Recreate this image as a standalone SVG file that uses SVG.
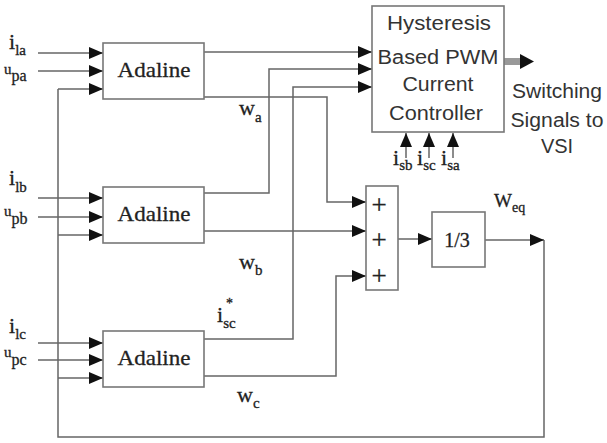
<svg xmlns="http://www.w3.org/2000/svg" width="607" height="443" viewBox="0 0 607 443">
<defs>
<marker id="ah" markerUnits="userSpaceOnUse" markerWidth="14" markerHeight="12" viewBox="0 0 14 12" refX="14" refY="6" orient="auto">
<path d="M0,0 L14,6 L0,12 Z" fill="#111"/>
</marker>
</defs>
<style>
.box{fill:#fff;stroke:#777;stroke-width:1.6}
.ln{fill:none;stroke:#666;stroke-width:1.5}
.ar{marker-end:url(#ah)}
.ser{font-family:"Liberation Serif","Times New Roman",serif;fill:#222;stroke:#222;stroke-width:0.3}
.sans{font-family:"Liberation Sans",Arial,sans-serif;fill:#333}
</style>
<rect width="607" height="443" fill="#fff"/>

<g id="connectors">
<line class="ln ar" x1="38" y1="53" x2="103" y2="53"/>
<line class="ln ar" x1="38" y1="71" x2="103" y2="71"/>
<line class="ln ar" x1="58" y1="89" x2="103" y2="89"/>
<line class="ln ar" x1="38" y1="198" x2="103" y2="198"/>
<line class="ln ar" x1="38" y1="217" x2="103" y2="217"/>
<line class="ln ar" x1="58" y1="235" x2="103" y2="235"/>
<line class="ln ar" x1="38" y1="343" x2="103" y2="343"/>
<line class="ln ar" x1="38" y1="360" x2="103" y2="360"/>
<line class="ln ar" x1="58" y1="378" x2="103" y2="378"/>
<polyline class="ln" points="58,89 58,437 544,437 544,240"/>
<line class="ln ar" x1="485" y1="240" x2="544" y2="240"/>
<line class="ln ar" x1="204" y1="52" x2="372" y2="52"/>
<polyline class="ln ar" points="204,97 327,97 327,202 366,202"/>
<polyline class="ln ar" points="204,193 269,193 269,69 372,69"/>
<line class="ln ar" x1="204" y1="231" x2="366" y2="231"/>
<polyline class="ln ar" points="204,339 293,339 293,87 372,87"/>
<polyline class="ln ar" points="204,376 336,376 336,276 366,276"/>
<line class="ln ar" x1="398" y1="239" x2="432" y2="239"/>
<line class="ln ar" x1="406" y1="158" x2="406" y2="133"/>
<line class="ln ar" x1="429" y1="158" x2="429" y2="133"/>
<line class="ln ar" x1="453" y1="158" x2="453" y2="133"/>
<rect x="504" y="58" width="17" height="7" fill="#999"/>
<path d="M520,54 L534,61.5 L520,69 Z" fill="#111"/>
</g>

<g id="adaline-a">
<rect class="box" x="103" y="43" width="101" height="56"/>
<text class="ser" x="154" y="77" font-size="22" text-anchor="middle" textLength="73" lengthAdjust="spacingAndGlyphs">Adaline</text>
</g>
<g id="adaline-b">
<rect class="box" x="103" y="187" width="101" height="56"/>
<text class="ser" x="154" y="221" font-size="22" text-anchor="middle" textLength="73" lengthAdjust="spacingAndGlyphs">Adaline</text>
</g>
<g id="adaline-c">
<rect class="box" x="103" y="331" width="101" height="56"/>
<text class="ser" x="154" y="365" font-size="22" text-anchor="middle" textLength="73" lengthAdjust="spacingAndGlyphs">Adaline</text>
</g>

<g id="hysteresis">
<rect class="box" x="372" y="6" width="132" height="126"/>
<text class="sans" x="439" y="30" font-size="20" text-anchor="middle" textLength="104" lengthAdjust="spacingAndGlyphs">Hysteresis</text>
<text class="sans" x="438" y="64" font-size="20" text-anchor="middle" textLength="121" lengthAdjust="spacingAndGlyphs">Based PWM</text>
<text class="sans" x="438" y="91" font-size="20" text-anchor="middle" textLength="71" lengthAdjust="spacingAndGlyphs">Current</text>
<text class="sans" x="436" y="120" font-size="20" text-anchor="middle" textLength="94" lengthAdjust="spacingAndGlyphs">Controller</text>
</g>

<g id="sum">
<rect class="box" x="366" y="186" width="32" height="104"/>
<text class="ser" x="379" y="214" font-size="27" text-anchor="middle">+</text>
<text class="ser" x="379" y="249" font-size="27" text-anchor="middle">+</text>
<text class="ser" x="379" y="285" font-size="27" text-anchor="middle">+</text>
</g>

<g id="gain">
<rect class="box" x="432" y="212" width="53" height="55"/>
<text class="ser" x="457" y="247" font-size="20" text-anchor="middle">1/3</text>
</g>

<g id="labels">
<text class="sans" x="557" y="98" font-size="20" text-anchor="middle" textLength="90" lengthAdjust="spacingAndGlyphs">Switching</text>
<text class="sans" x="557" y="127" font-size="20" text-anchor="middle" textLength="93" lengthAdjust="spacingAndGlyphs">Signals to</text>
<text class="sans" x="557" y="153" font-size="20" text-anchor="middle">VSI</text>

<text class="ser" x="9" y="49" font-size="22">i<tspan font-size="15" dy="6">la</tspan></text>
<text class="ser" x="4" y="74" font-size="15">u<tspan font-size="16" dy="7">pa</tspan></text>
<text class="ser" x="9" y="185" font-size="22">i<tspan font-size="15" dy="7">lb</tspan></text>
<text class="ser" x="4" y="216" font-size="15">u<tspan font-size="16" dy="8">pb</tspan></text>
<text class="ser" x="9" y="333" font-size="22">i<tspan font-size="15" dy="6">lc</tspan></text>
<text class="ser" x="4" y="357" font-size="15">u<tspan font-size="16" dy="8">pc</tspan></text>

<text class="ser" x="239" y="115" font-size="22">w<tspan font-size="15" dy="7">a</tspan></text>
<text class="ser" x="239" y="269" font-size="22">w<tspan font-size="15" dy="6">b</tspan></text>
<text class="ser" x="237" y="402" font-size="22">w<tspan font-size="15" dy="6">c</tspan></text>
<text class="ser" x="217" y="322" font-size="22">i<tspan font-size="15" dy="6">sc</tspan></text>
<text class="ser" x="226" y="308" font-size="14">*</text>

<text class="ser" x="494" y="207" font-size="19">W<tspan font-size="14" dy="5">eq</tspan></text>

<text class="ser" x="393" y="165" font-size="22">i<tspan font-size="15" dy="5">sb</tspan></text>
<text class="ser" x="417" y="165" font-size="22">i<tspan font-size="15" dy="5">sc</tspan></text>
<text class="ser" x="441" y="165" font-size="22">i<tspan font-size="15" dy="5">sa</tspan></text>
</g>
</svg>
